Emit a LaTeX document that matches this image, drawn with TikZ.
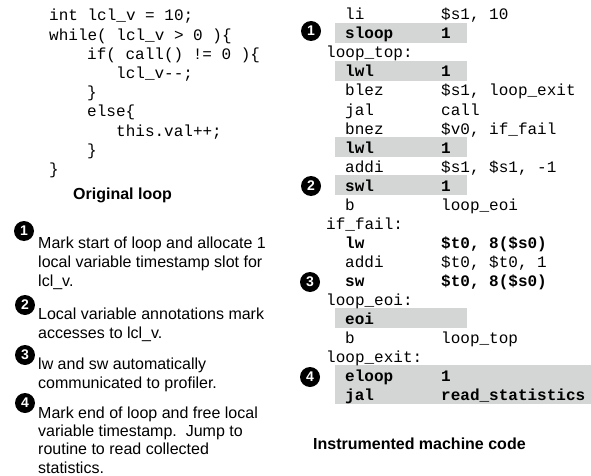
\documentclass[tikz,border=0pt]{standalone}
\usepackage{fontspec}
\setmainfont{Liberation Sans}
\setsansfont{Liberation Sans}
\setmonofont{Liberation Mono}
\definecolor{boxgrey}{RGB}{211,214,213}
\tikzset{
  code/.style={anchor=base west, inner sep=0pt, font=\ttfamily\fontsize{16}{19}\selectfont},
  bcode/.style={code, font=\ttfamily\bfseries\fontsize{16}{19}\selectfont},
  txt/.style={anchor=base west, inner sep=0pt, font=\sffamily\fontsize{16}{19}\selectfont},
  caption/.style={anchor=base west, inner sep=0pt, font=\sffamily\bfseries\fontsize{16}{19}\selectfont},
  num/.style={circle, fill=black, text=white, inner sep=0pt, minimum size=20pt, font=\sffamily\bfseries\fontsize{14}{14}\selectfont},
  hl/.style={fill=boxgrey, draw=none}
}
\begin{document}
\begin{tikzpicture}[x=1pt,y=-1pt]
\useasboundingbox (0,0) rectangle (591,476);
% ---------- original loop ----------
\node[code] (c0) at (49,21)    {int lcl\_v = 10;};
\node[code] (c1) at (49,40.2)  {while( lcl\_v > 0 )\{};
\node[code] (c2) at (87,59.4)  {if( call() != 0 )\{};
\node[code] (c3) at (116,78.6) {lcl\_v-{}-;};
\node[code] (c4) at (87,97.8)  {\}};
\node[code] (c5) at (87,117)   {else\{};
\node[code] (c6) at (116,136.2){this.val++;};
\node[code] (c7) at (87,155.4) {\}};
\node[code] (c8) at (49,174.6) {\}};
\node[caption] (cap1) at (73,199) {Original loop};
% ---------- annotations ----------
\node[num] (n1) at (24,231) {1};
\node[txt] (a1a) at (38,248) {Mark start of loop and allocate 1};
\node[txt] (a1b) at (38,267) {local variable timestamp slot for};
\node[txt] (a1c) at (38,286) {lcl\_v.};
\node[num] (n2) at (25,305) {2};
\node[txt] (a2a) at (38,319) {Local variable annotations mark};
\node[txt] (a2b) at (38,338) {accesses to lcl\_v.};
\node[num] (n3) at (25,355) {3};
\node[txt] (a3a) at (38,369) {lw and sw automatically};
\node[txt] (a3b) at (38,388) {communicated to profiler.};
\node[num] (n4) at (25,403) {4};
\node[txt] (a4a) at (38,418) {Mark end of loop and free local};
\node[txt] (a4b) at (38,436) {variable timestamp.\ \ Jump to};
\node[txt] (a4c) at (38,454) {routine to read collected};
\node[txt] (a4d) at (38,473) {statistics.};
% ---------- highlight boxes ----------
\fill[hl] (335,23) rectangle (467,43);
\fill[hl] (335,61) rectangle (467,81);
\fill[hl] (335,137) rectangle (467,157);
\fill[hl] (335,175) rectangle (467,195);
\fill[hl] (335,308) rectangle (467,328);
\fill[hl] (335,365) rectangle (591,404);
% ---------- machine code ----------
\node[code]  (r0i) at (345,20)  {li};      \node[code]  (r0o) at (441,20)  {\$s1, 10};
\node[bcode] (r1i) at (345,39)  {sloop};   \node[bcode] (r1o) at (441,39)  {1};
\node[code]  (r2l) at (326,58)  {loop\_top:};
\node[bcode] (r3i) at (345,77)  {lwl};     \node[bcode] (r3o) at (441,77)  {1};
\node[code]  (r4i) at (345,96)  {blez};    \node[code]  (r4o) at (441,96)  {\$s1, loop\_exit};
\node[code]  (r5i) at (345,115) {jal};     \node[code]  (r5o) at (441,115) {call};
\node[code]  (r6i) at (345,134) {bnez};    \node[code]  (r6o) at (441,134) {\$v0, if\_fail};
\node[bcode] (r7i) at (345,153) {lwl};     \node[bcode] (r7o) at (441,153) {1};
\node[code]  (r8i) at (345,172) {addi};    \node[code]  (r8o) at (441,172) {\$s1, \$s1, -1};
\node[bcode] (r9i) at (345,191) {swl};     \node[bcode] (r9o) at (441,191) {1};
\node[code]  (r10i) at (345,210) {b};      \node[code]  (r10o) at (441,210) {loop\_eoi};
\node[code]  (r11l) at (326,229) {if\_fail:};
\node[bcode] (r12i) at (345,248) {lw};     \node[bcode] (r12o) at (441,248) {\$t0, 8(\$s0)};
\node[code]  (r13i) at (345,267) {addi};   \node[code]  (r13o) at (441,267) {\$t0, \$t0, 1};
\node[bcode] (r14i) at (345,286) {sw};     \node[bcode] (r14o) at (441,286) {\$t0, 8(\$s0)};
\node[code]  (r15l) at (326,305) {loop\_eoi:};
\node[bcode] (r16i) at (345,324) {eoi};
\node[code]  (r17i) at (345,343) {b};      \node[code]  (r17o) at (441,343) {loop\_top};
\node[code]  (r18l) at (326,362) {loop\_exit:};
\node[bcode] (r19i) at (345,381) {eloop};  \node[bcode] (r19o) at (441,381) {1};
\node[bcode] (r20i) at (345,400) {jal};    \node[bcode] (r20o) at (441,400) {read\_statistics};
\node[caption] (cap2) at (313,449) {Instrumented machine code};
% ---------- numbered markers ----------
\node[num] (m1) at (311,31) {1};
\node[num] (m2) at (311,186) {2};
\node[num] (m3) at (310,282) {3};
\node[num] (m4) at (310,377) {4};
\end{tikzpicture}
\end{document}
